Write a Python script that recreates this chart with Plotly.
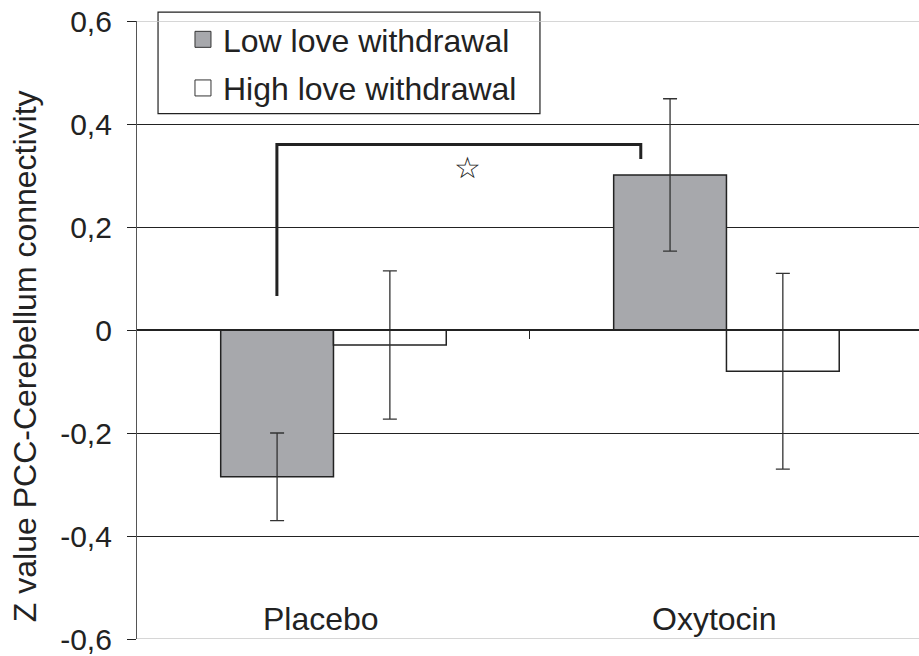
import plotly.graph_objects as go

categories = ["Placebo", "Oxytocin"]
cat_pos = [0, 1]
series_names = ["Low love withdrawal", "High love withdrawal"]
low_values = [-0.285, 0.301]
low_errors = [0.085, 0.148]
high_values = [-0.029, -0.080]
high_errors = [0.144, 0.190]
ytick_vals = [-0.6, -0.4, -0.2, 0, 0.2, 0.4, 0.6]
ytick_text = ["-0,6", "-0,4", "-0,2", "0", "0,2", "0,4", "0,6"]
# significance bracket (data coordinates) and marker
bracket_x = [-0.144, -0.144, 0.782, 0.782]
bracket_y = [0.066, 0.360, 0.360, 0.332]
star_x, star_y = 0.34, 0.316

GRAY = "#a7a8ac"
INK = "#222222"
FONT = "Liberation Sans, Arial, sans-serif"

fig = go.Figure()
fig.add_trace(go.Bar(
    x=cat_pos, y=low_values, name=series_names[0], showlegend=False,
    marker=dict(color=GRAY, line=dict(color=INK, width=1.5)),
    error_y=dict(type="data", array=low_errors, color="#333333", thickness=1.3, width=7),
))
fig.add_trace(go.Bar(
    x=cat_pos, y=high_values, name=series_names[1], showlegend=False,
    marker=dict(color="white", line=dict(color=INK, width=1.5)),
    error_y=dict(type="data", array=high_errors, color="#333333", thickness=1.3, width=7),
))
# legend proxies (larger squares)
for nm, col, grp in [(series_names[0], GRAY, "a"), (series_names[1], "white", "b")]:
    fig.add_trace(go.Scatter(
        x=[None], y=[None], mode="markers", name=nm, legendgroup=grp,
        marker=dict(symbol="square", size=16, color=col, line=dict(color="#333333", width=1)),
    ))

# bracket
fig.add_trace(go.Scatter(
    x=bracket_x, y=bracket_y, mode="lines", showlegend=False, hoverinfo="skip",
    line=dict(color=INK, width=3),
))

fig.add_annotation(x=star_x, y=star_y, text="☆", showarrow=False,
                   font=dict(family="DejaVu Sans", size=30, color=INK))

for c, p in zip(categories, cat_pos):
    fig.add_annotation(x=p, y=-0.6, text=c, showarrow=False, xshift=-12,
                       yanchor="bottom", yshift=0, font=dict(family=FONT, size=32, color=INK))

# y axis title
fig.add_annotation(xref="paper", yref="paper", x=-0.143, y=0.458, text="Z value PCC-Cerebellum connectivity",
                   textangle=-90, showarrow=False, xanchor="center", yanchor="middle",
                   font=dict(family=FONT, size=32, color=INK))

# legend box
fig.add_shape(type="rect", xref="paper", yref="paper", x0=0.0269, x1=0.5153, y0=0.85, y1=1.0145,
              line=dict(color=INK, width=1.2), fillcolor="white", layer="above")

# light gray lines at the range ends
for yv in [0.6, -0.6]:
    fig.add_shape(type="line", xref="paper", yref="y", x0=0, x1=1, y0=yv, y1=yv,
                  line=dict(color="#c8c8c8", width=1.5), layer="above")

fig.update_layout(
    width=919, height=656,
    margin=dict(l=137, r=0, t=21, b=17),
    paper_bgcolor="white", plot_bgcolor="white",
    barmode="group", bargap=0.426, bargroupgap=0,
    font=dict(family=FONT, size=30, color=INK),
    legend=dict(x=0.0588, y=1.0145, xanchor="left", yanchor="top",
                bgcolor="rgba(0,0,0,0)", borderwidth=0, tracegroupgap=4,
                font=dict(family=FONT, size=32, color=INK)),
    xaxis=dict(range=[-0.5, 1.49], anchor="free", position=0.5,
               showline=True, linecolor=INK, linewidth=1.5,
               tickvals=[0.5], ticks="outside", ticklen=8, tickcolor=INK, tickwidth=1.3,
               showticklabels=False, showgrid=False, zeroline=False, automargin=False),
    yaxis=dict(range=[-0.6, 0.6], tickvals=ytick_vals, ticktext=ytick_text,
               showline=True, linecolor="#555555", linewidth=1.3,
               ticks="outside", ticklen=9, tickcolor=INK, tickwidth=1.3,
               ticklabelstandoff=9, ticklabeloverflow="allow", automargin=False,
               showgrid=True, gridcolor=INK, gridwidth=1.2, zeroline=False,
               tickfont=dict(family=FONT, size=30, color=INK)),
)

fig.write_html("out.html", config={"displayModeBar": False},
               post_script="document.body.style.margin='0';document.body.style.padding='0';")
